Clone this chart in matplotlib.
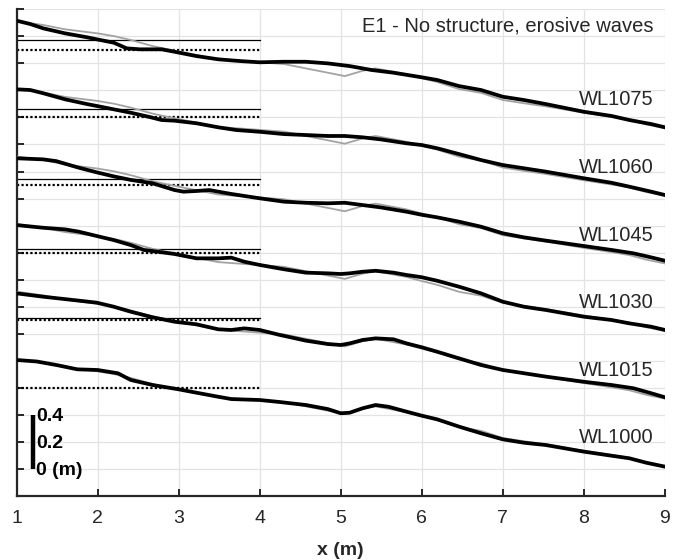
import matplotlib
matplotlib.use("Agg")
import matplotlib.pyplot as plt

plt.rcParams['font.family'] = ['Liberation Sans', 'DejaVu Sans']

# ---------------- data ----------------
labels = ["WL1000", "WL1015", "WL1030", "WL1045", "WL1060", "WL1075"]
water_level = [1.000, 1.015, 1.030, 1.045, 1.060, 1.075]   # m
offset = [0.0, 0.5, 1.0, 1.5, 2.0, 2.5]                     # stacking offset (m)
ref_level = 0.6                                             # plotted position of 1.000 m for WL1000

# initial bed profile (grey), elevation relative to 1.000 m level
x_init = [1.0, 1.33, 1.6, 2.0, 2.2, 2.41, 2.68, 2.95, 3.22, 3.49, 4.0, 4.3, 4.57, 4.84,
          5.05, 5.27, 5.43, 5.65, 5.81, 6.0, 6.19, 6.46, 6.73, 7.0, 7.26, 7.53, 8.0,
          8.34, 8.56, 8.77, 9.0]
z_init = [0.212, 0.184, 0.152, 0.122, 0.102, 0.073, 0.028, -0.006, -0.038, -0.070,
          -0.092, -0.105, -0.137, -0.169, -0.194, -0.155, -0.137, -0.162, -0.180,
          -0.210, -0.238, -0.290, -0.318, -0.371, -0.395, -0.418, -0.465, -0.496,
          -0.518, -0.552, -0.580]

# final bed profiles (black)
x_1000 = [1.0, 1.25, 1.5, 1.75, 2.0, 2.25, 2.41, 2.68, 3.0, 3.22, 3.49, 3.65, 4.0, 4.25,
          4.57, 4.84, 5.0, 5.11, 5.27, 5.43, 5.59, 5.81, 6.0, 6.19, 6.46, 6.73, 7.0,
          7.26, 7.53, 8.0, 8.34, 8.56, 8.77, 9.0]
z_1000 = [0.206, 0.195, 0.168, 0.137, 0.132, 0.108, 0.058, 0.021, -0.011, -0.036,
          -0.066, -0.083, -0.090, -0.105, -0.127, -0.157, -0.188, -0.184, -0.151,
          -0.127, -0.140, -0.176, -0.206, -0.233, -0.287, -0.336, -0.381, -0.406,
          -0.423, -0.472, -0.502, -0.521, -0.554, -0.583]

x_1015 = [1.0, 1.33, 1.77, 1.99, 2.2, 2.41, 2.68, 2.95, 3.22, 3.49, 3.65, 3.81, 4.0,
          4.25, 4.57, 4.84, 5.0, 5.11, 5.27, 5.43, 5.65, 5.81, 6.0, 6.19, 6.46, 6.73,
          7.0, 7.26, 7.53, 8.0, 8.34, 8.61, 8.83, 9.0]
z_1015 = [0.199, 0.174, 0.145, 0.130, 0.100, 0.063, 0.022, -0.011, -0.030, -0.067,
          -0.072, -0.060, -0.072, -0.109, -0.151, -0.176, -0.183, -0.171, -0.146,
          -0.134, -0.141, -0.171, -0.200, -0.233, -0.282, -0.331, -0.368, -0.392,
          -0.417, -0.455, -0.479, -0.503, -0.540, -0.570]

x_1030 = [1.0, 1.33, 1.6, 1.77, 1.99, 2.2, 2.41, 2.57, 2.74, 2.95, 3.22, 3.49, 3.65,
          3.81, 4.0, 4.3, 4.57, 4.84, 5.0, 5.11, 5.27, 5.43, 5.65, 5.81, 6.0, 6.19,
          6.46, 6.73, 7.0, 7.26, 7.53, 8.0, 8.34, 8.56, 8.83, 9.0]
z_1030 = [0.204, 0.184, 0.172, 0.155, 0.123, 0.093, 0.056, 0.020, 0.007, -0.010,
          -0.042, -0.042, -0.037, -0.067, -0.091, -0.123, -0.148, -0.153, -0.158,
          -0.153, -0.141, -0.134, -0.148, -0.165, -0.182, -0.208, -0.252, -0.301,
          -0.363, -0.400, -0.424, -0.474, -0.498, -0.523, -0.548, -0.572]

x_1045 = [1.0, 1.33, 1.49, 1.77, 1.99, 2.2, 2.41, 2.68, 2.95, 3.06, 3.22, 3.38, 3.49,
          3.65, 4.0, 4.3, 4.57, 4.84, 5.05, 5.27, 5.49, 5.81, 6.0, 6.19, 6.46, 6.73,
          7.0, 7.26, 7.53, 8.0, 8.34, 8.61, 8.83, 9.0]
z_1045 = [0.198, 0.190, 0.177, 0.128, 0.094, 0.064, 0.038, 0.013, -0.037, -0.049,
          -0.044, -0.037, -0.049, -0.066, -0.098, -0.123, -0.131, -0.135, -0.131,
          -0.148, -0.165, -0.197, -0.220, -0.239, -0.271, -0.308, -0.357, -0.387,
          -0.411, -0.451, -0.480, -0.505, -0.535, -0.560]

x_1060 = [1.0, 1.17, 1.33, 1.6, 1.87, 1.99, 2.2, 2.41, 2.63, 2.79, 2.95, 3.22, 3.49,
          3.71, 4.0, 4.3, 4.57, 4.84, 5.05, 5.27, 5.49, 5.81, 6.0, 6.19, 6.46, 6.73,
          7.0, 7.26, 7.53, 8.0, 8.34, 8.56, 8.83, 9.0]
z_1060 = [0.208, 0.203, 0.179, 0.134, 0.099, 0.085, 0.060, 0.035, 0.005, -0.019,
          -0.024, -0.043, -0.073, -0.093, -0.106, -0.123, -0.130, -0.137, -0.137,
          -0.147, -0.162, -0.191, -0.204, -0.228, -0.271, -0.315, -0.352, -0.376,
          -0.401, -0.450, -0.483, -0.512, -0.549, -0.574]

x_1075 = [1.0, 1.17, 1.33, 1.6, 1.87, 1.99, 2.2, 2.36, 2.52, 2.79, 2.95, 3.22, 3.49,
          3.76, 4.0, 4.3, 4.57, 4.84, 5.11, 5.38, 5.65, 6.0, 6.19, 6.46, 6.73, 7.0,
          7.26, 7.53, 8.0, 8.34, 8.56, 8.83, 9.0]
z_1075 = [0.216, 0.191, 0.159, 0.122, 0.093, 0.078, 0.053, 0.011, 0.004, 0.004,
          -0.014, -0.046, -0.070, -0.083, -0.092, -0.088, -0.088, -0.100, -0.120,
          -0.149, -0.169, -0.203, -0.223, -0.268, -0.297, -0.347, -0.371, -0.401,
          -0.458, -0.489, -0.519, -0.549, -0.573]

profiles_x = [x_1000, x_1015, x_1030, x_1045, x_1060, x_1075]
profiles_z = [z_1000, z_1015, z_1030, z_1045, z_1060, z_1075]

title = "E1 - No structure, erosive waves"
xticks = [1, 2, 3, 4, 5, 6, 7, 8, 9]
scale_ticks = [0.0, 0.2, 0.4]
scale_labels = ["0 (m)", "0.2", "0.4"]

# ---------------- figure ----------------
fig = plt.figure(figsize=(6.86, 5.6), dpi=100)
ax = fig.add_axes([16.5 / 686, 64 / 560, (665 - 16.5) / 686, (496 - 9.3) / 560])

ax.set_xlim(1, 9)
ax.set_ylim(-0.2, 3.4)
ax.set_xticks(xticks)
ax.set_yticks([round(-0.2 + 0.2 * i, 1) for i in range(19)])
ax.set_yticklabels([])
ax.grid(True, color='#e3e3e3', linewidth=0.9, zorder=0)
ax.set_axisbelow(True)

for side in ['top', 'right']:
    ax.spines[side].set_visible(False)
for side in ['left', 'bottom']:
    ax.spines[side].set_color('#262626')
    ax.spines[side].set_linewidth(1.6)

ax.tick_params(axis='both', direction='in', length=5, width=1.4, color='#262626')
ax.tick_params(axis='x', labelsize=14, pad=10, labelcolor='#262626')
ax.tick_params(axis='y', length=5)

for k, lab in enumerate(labels):
    base = ref_level + offset[k]
    # reference level (dotted) and water level (solid) over x = 1..4
    ax.plot([1, 4], [base, base], color='black', linewidth=1.6,
            linestyle=(0, (1, 1)), zorder=2)
    if water_level[k] > 1.0:
        wl = base + (water_level[k] - 1.0)
        ax.plot([1, 4], [wl, wl], color='black', linewidth=0.9, zorder=2)
    ax.plot(x_init, [base + z for z in z_init], color='#a3a3a3', linewidth=1.3,
            zorder=3)
    ax.plot(profiles_x[k], [base + z for z in profiles_z[k]], color='black',
            linewidth=2.7, zorder=4, solid_joinstyle='round')
    ax.text(8.86, base - 0.37, lab, ha='right', va='center', fontsize=14.5,
            color='#262626', zorder=5)

ax.text(8.86, 3.276, title, ha='right', va='center', fontsize=14.5,
        color='#262626', zorder=5)

# vertical scale bar
ax.plot([1.207, 1.207], [0.0, 0.4], color='black', linewidth=3.2,
        solid_capstyle='butt', zorder=5)
for v, s in zip(scale_ticks, scale_labels):
    ax.text(1.245, v - 0.01, s, ha='left', va='center', fontsize=14,
            fontweight='bold', color='black', zorder=5)

ax.set_xlabel("x (m)", fontsize=14, fontweight='bold', labelpad=11, color='#262626')

fig.savefig("out.png", dpi=100)
